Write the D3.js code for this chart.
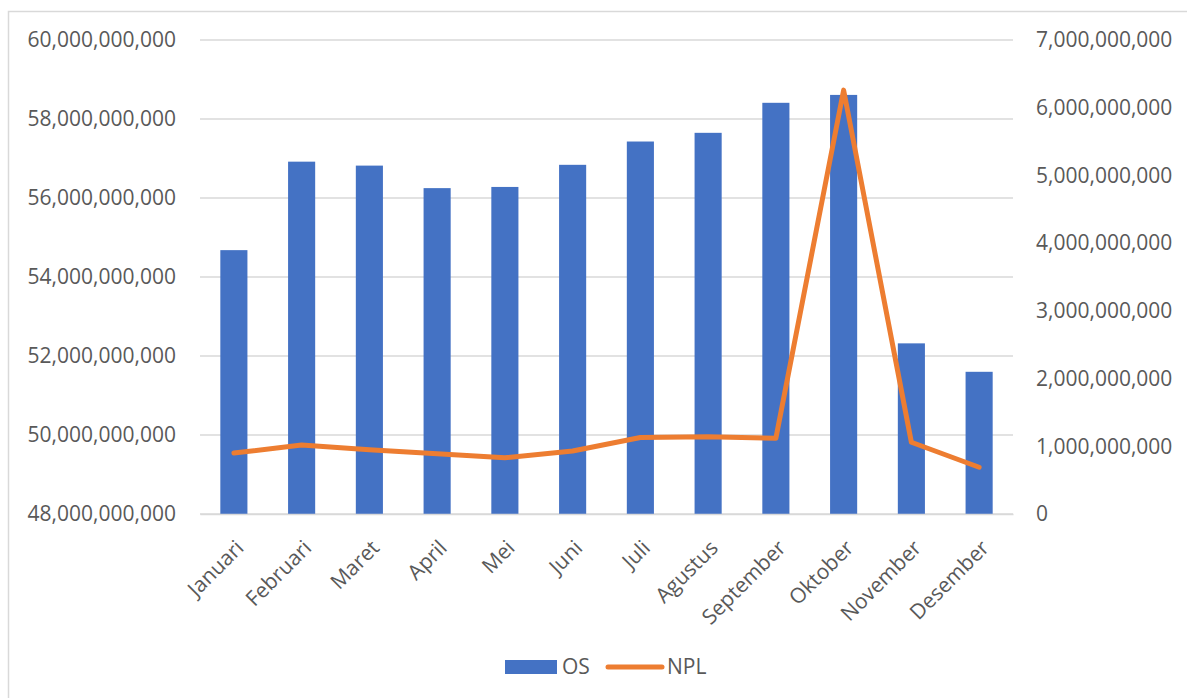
<!DOCTYPE html>
<html>
<head>
<meta charset="utf-8">
<script src="https://cdn.jsdelivr.net/npm/d3@7"></script>
<style>
  body { margin: 0; background: #fff; overflow: hidden; }
  svg { display: block; }
  text { font-family: "Open Sans", sans-serif; fill: #595959; }
</style>
</head>
<body>
<div id="plot"></div>
<script>
// Width and height
const w = 1187;
const h = 698;
const margin = {top: 40, right: 174, bottom: 184, left: 200};
const innerWidth = w - margin.left - margin.right;
const innerHeight = h - margin.top - margin.bottom;

// data
const months = ["Januari", "Februari", "Maret", "April", "Mei", "Juni",
  "Juli", "Agustus", "September", "Oktober", "November", "Desember"];
const osValues = [54.68e9, 56.92e9, 56.82e9, 56.25e9, 56.28e9, 56.84e9,
  57.43e9, 57.65e9, 58.41e9, 58.61e9, 52.32e9, 51.60e9];
const nplValues = [0.90e9, 1.02e9, 0.95e9, 0.89e9, 0.83e9, 0.93e9,
  1.13e9, 1.14e9, 1.12e9, 6.26e9, 1.06e9, 0.69e9];
const leftTicks = [48e9, 50e9, 52e9, 54e9, 56e9, 58e9, 60e9];
const rightTicks = [0, 1e9, 2e9, 3e9, 4e9, 5e9, 6e9, 7e9];
const seriesNames = ["OS", "NPL"];

const svg = d3.select("div#plot")
  .append("svg")
    .attr("width", w)
    .attr("height", h);

// chart border (left + top only visible)
svg.append("path")
  .attr("d", `M8.5,${h} V11.5 H${w}`)
  .attr("fill", "none")
  .attr("stroke", "#d9d9d9")
  .attr("stroke-width", 1.5);

const g = svg.append("g")
  .attr("id", "plot")
  .attr("transform", `translate(${margin.left}, ${margin.top})`);

const xScale = d3.scaleBand()
  .domain(months)
  .range([0, innerWidth])
  .paddingInner(0.6)
  .paddingOuter(0.3);

const yLeft = d3.scaleLinear()
  .domain([48e9, 60e9])
  .range([innerHeight, 0]);

const yRight = d3.scaleLinear()
  .domain([0, 7e9])
  .range([innerHeight, 0]);

// gridlines
g.append("g")
  .attr("id", "grid")
  .selectAll("line")
  .data(leftTicks)
  .enter()
  .append("line")
    .attr("x1", 0)
    .attr("x2", innerWidth)
    .attr("y1", d => yLeft(d))
    .attr("y2", d => yLeft(d))
    .attr("stroke", "#d9d9d9")
    .attr("stroke-width", 1.3);

// left axis
const yAxisLeft = d3.axisLeft(yLeft)
  .tickValues(leftTicks)
  .tickFormat(d3.format(","))
  .tickSize(0)
  .tickPadding(24);

g.append("g")
  .attr("id", "yaxis")
  .call(yAxisLeft)
  .call(s => s.select(".domain").remove())
  .selectAll("text")
    .style("font-size", "21px")
    .attr("fill", "#595959");

// right axis
const yAxisRight = d3.axisRight(yRight)
  .tickValues(rightTicks)
  .tickFormat(d3.format(","))
  .tickSize(0)
  .tickPadding(23);

g.append("g")
  .attr("id", "yaxis2")
  .attr("transform", `translate(${innerWidth}, 0)`)
  .call(yAxisRight)
  .call(s => s.select(".domain").remove())
  .selectAll("text")
    .style("font-size", "21px")
    .attr("fill", "#595959");

// bars
g.append("g")
  .selectAll("rect")
  .data(months)
  .enter()
  .append("rect")
    .attr("x", d => xScale(d))
    .attr("y", (d, i) => yLeft(osValues[i]))
    .attr("width", xScale.bandwidth())
    .attr("height", (d, i) => innerHeight - yLeft(osValues[i]))
    .attr("fill", "#4472c4");

// x-axis
const xAxis = d3.axisBottom(xScale).tickSize(0).tickPadding(0);
g.append("g")
  .attr("id", "xaxis")
  .attr("transform", `translate(0, ${innerHeight})`)
  .call(xAxis)
  .call(s => s.select(".domain")
    .attr("stroke", "#d9d9d9")
    .attr("stroke-width", 1.5))
  .selectAll("text")
    .style("font-size", "21px")
    .attr("fill", "#595959")
    .attr("text-anchor", "end")
    .attr("dy", "0.35em")
    .attr("transform", "translate(6, 30) rotate(-45)");

// NPL line
const line = d3.line()
  .x((d, i) => xScale(months[i]) + xScale.bandwidth() / 2)
  .y(d => yRight(d));

g.append("path")
  .datum(nplValues)
  .attr("d", line)
  .attr("fill", "none")
  .attr("stroke", "#ed7d31")
  .attr("stroke-width", 5)
  .attr("stroke-linejoin", "round")
  .attr("stroke-linecap", "round");

// legend
const legend = svg.append("g")
  .attr("id", "legend")
  .attr("transform", "translate(505, 667)");

legend.append("rect")
  .attr("x", 0)
  .attr("y", -7)
  .attr("width", 52)
  .attr("height", 14)
  .attr("fill", "#4472c4");

legend.append("text")
  .attr("x", 57)
  .attr("y", 0)
  .attr("dy", "0.35em")
  .style("font-size", "21px")
  .text(seriesNames[0]);

legend.append("line")
  .attr("x1", 103)
  .attr("x2", 157)
  .attr("y1", 0)
  .attr("y2", 0)
  .attr("stroke", "#ed7d31")
  .attr("stroke-width", 5)
  .attr("stroke-linecap", "round");

legend.append("text")
  .attr("x", 162)
  .attr("y", 0)
  .attr("dy", "0.35em")
  .style("font-size", "21px")
  .text(seriesNames[1]);
</script>
</body>
</html>
